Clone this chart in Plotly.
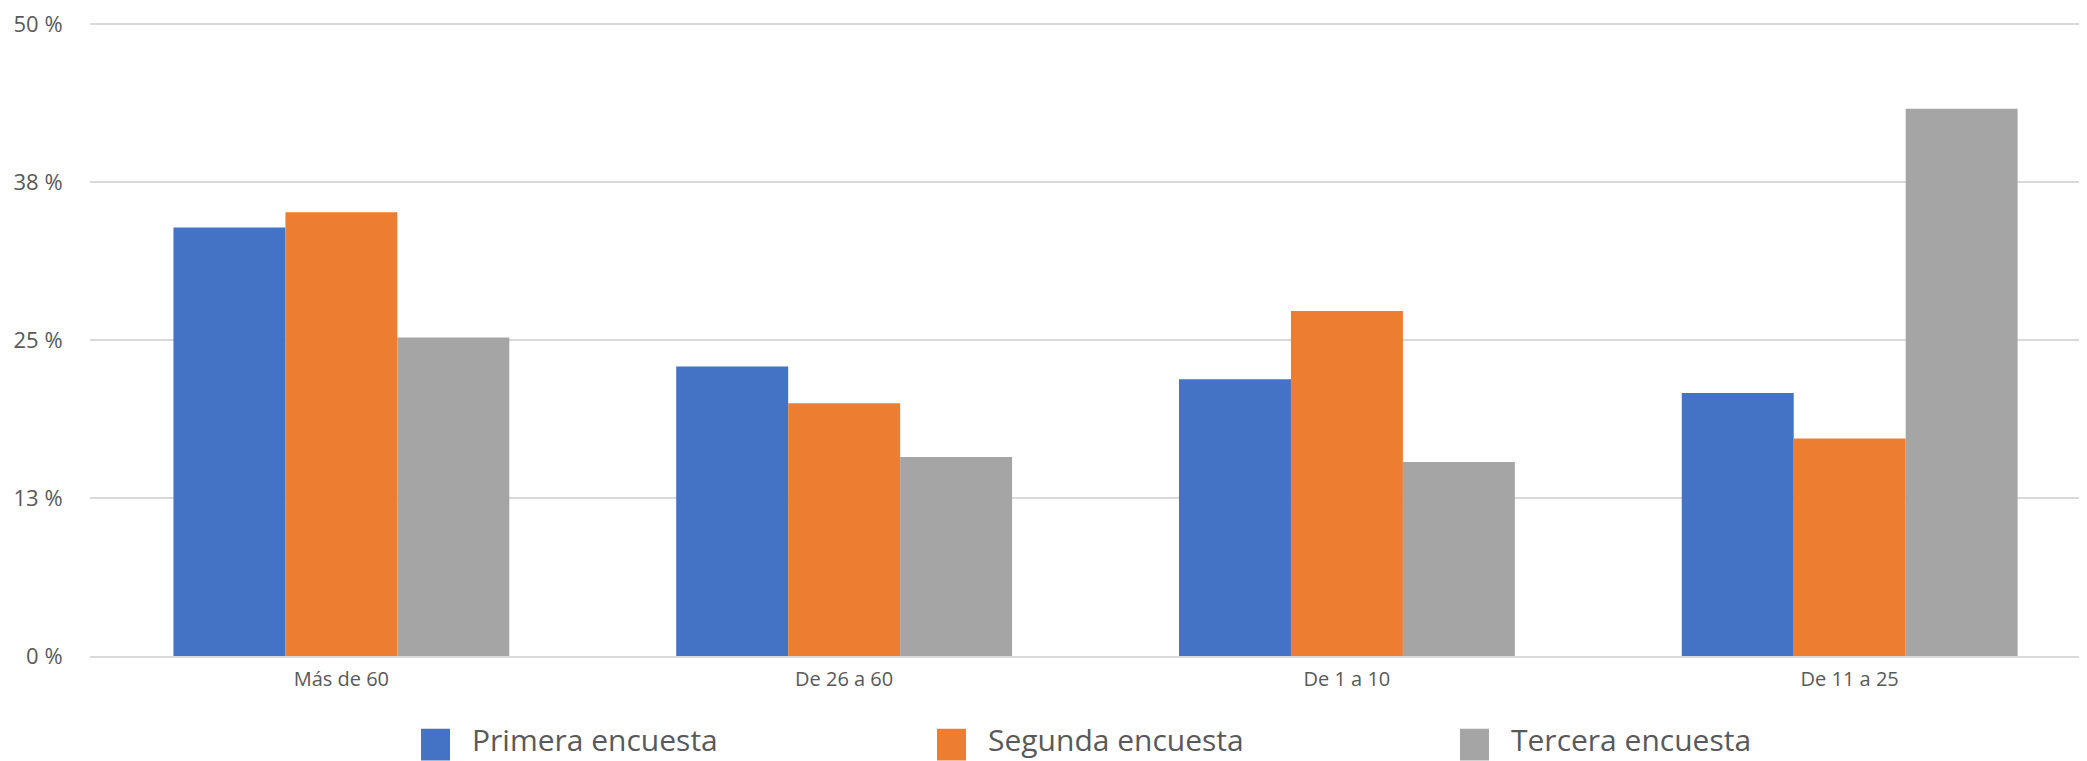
import plotly.graph_objects as go

categories = ["Más de 60", "De 26 a 60", "De 1 a 10", "De 11 a 25"]
series_names = ["Primera encuesta", "Segunda encuesta", "Tercera encuesta"]
primera = [0.339, 0.229, 0.219, 0.208]
segunda = [0.351, 0.200, 0.273, 0.172]
tercera = [0.252, 0.1575, 0.1535, 0.433]
colors = ["#4472C4", "#ED7D31", "#A5A5A5"]
tick_vals = [0, 0.125, 0.25, 0.375, 0.5]
tick_text = ["0 %", "13 %", "25 %", "38 %", "50 %"]

# page has an 8px body margin; size the figure so the plot lands where the original is
OFF = 8
W, H = 2087 - OFF, 761 - OFF
ML, MR, MT, MB = 90 - OFF, 0, 20 - OFF, 105
FONT = "Open Sans"
TXT = "#595959"
Y_MAX = 0.5008

fig = go.Figure()
for name, vals, col in zip(series_names, [primera, segunda, tercera], colors):
    fig.add_trace(go.Bar(x=categories, y=vals, name=name, marker=dict(color=col, line=dict(width=0)),
                         showlegend=False))

# manual legend (large square markers like the original); positions in page pixels
plot_w = W - ML - MR
plot_h = H - MT - MB
def px_x(p):
    return (p - OFF - ML) / plot_w
def px_y(p):
    return (H - MB - (p - OFF)) / plot_h

legend_sq_x = [421, 937, 1460]
shapes = []
annotations = []
for name, col, sx in zip(series_names, colors, legend_sq_x):
    shapes.append(dict(type="rect", xref="paper", yref="paper",
                       x0=px_x(sx), x1=px_x(sx + 29), y0=px_y(761), y1=px_y(729),
                       fillcolor=col, line=dict(width=0)))
    annotations.append(dict(xref="paper", yref="paper", x=px_x(sx + 49), y=px_y(740),
                            text=name, showarrow=False, xanchor="left", yanchor="middle",
                            font=dict(family=FONT, size=30, color=TXT)))

fig.update_layout(
    width=W, height=H,
    margin=dict(l=ML, r=MR, t=MT, b=MB, pad=0),
    paper_bgcolor="white", plot_bgcolor="white",
    barmode="group", bargap=0.332, bargroupgap=0,
    font=dict(family=FONT, color=TXT),
    shapes=shapes, annotations=annotations,
    showlegend=False,
)
fig.update_xaxes(range=[-0.5, 3.472], showgrid=False, showline=True, linecolor="#D9D9D9", linewidth=2,
                 ticks="outside", ticklen=4, tickcolor="white",
                 tickfont=dict(family=FONT, size=20, color=TXT))
fig.update_yaxes(range=[0, Y_MAX], tickvals=tick_vals, ticktext=tick_text,
                 showgrid=True, gridcolor="#D9D9D9", gridwidth=2, zeroline=False,
                 ticks="outside", ticklen=22, tickcolor="white", ticklabeloverflow="allow",
                 tickfont=dict(family=FONT, size=22, color=TXT))

fig.write_html("out.html")
